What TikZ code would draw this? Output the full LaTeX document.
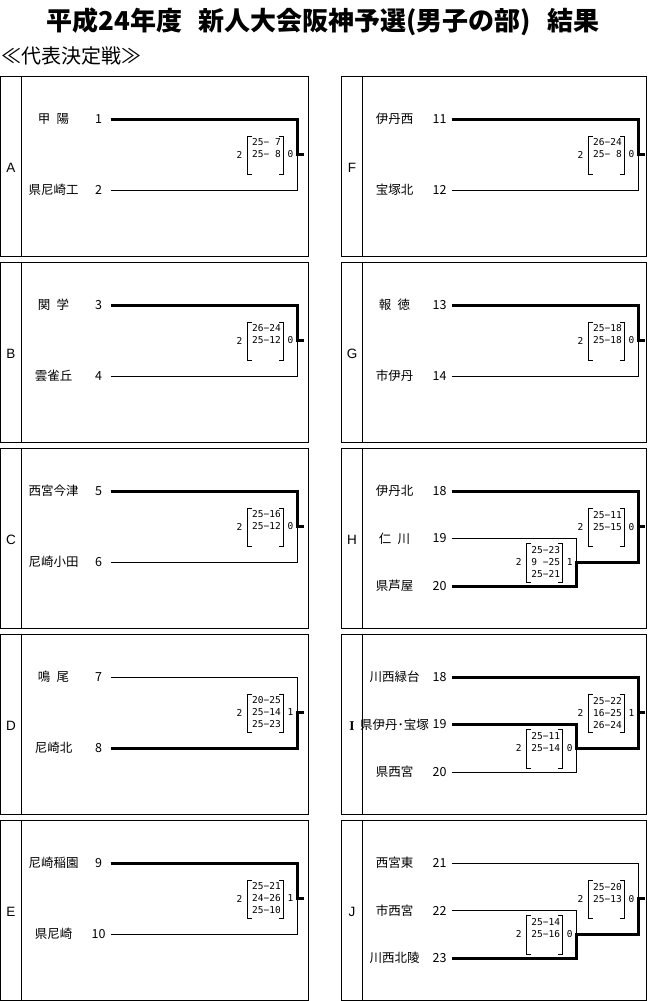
\documentclass[tikz,border=0pt]{standalone}
\usepackage{fontspec}
\setmainfont{Noto Sans CJK JP}
\newfontfamily\mono{DejaVu Sans Mono}
\newfontfamily\lat{Liberation Sans}
\newfontfamily\latserif{Liberation Serif}
\tikzset{
  lnthin/.style={line width=1pt},
  lnthick/.style={line width=3pt},
  frame/.style={line width=1pt},
  team/.style={font=\fontsize{12.5}{13}\selectfont, inner sep=0pt},
  seed/.style={font=\fontsize{12.5}{13}\selectfont, inner sep=0pt},
  scorerow/.style={font=\mono\fontsize{9.5}{10}\selectfont, inner sep=0pt, anchor=west},
  setnum/.style={font=\mono\fontsize{9.5}{10}\selectfont, inner sep=0pt},
  letter/.style={font=\lat\fontsize{13.5}{14}\selectfont, inner sep=0pt},
}
\newcommand{\ScoreBox}[7]{%
  \node[setnum] (#1-w) at ({#2-57.5},#3) {2};
  \node[scorerow] (#1-r1) at ({#2-45},{#3-12}) {#4};
  \node[scorerow] (#1-r2) at ({#2-45},{#3}) {#5};
  \node[scorerow] (#1-r3) at ({#2-45},{#3+12}) {#6};
  \node[setnum] (#1-l) at ({#2-6.5},#3) {#7};
  \draw[lnthin] ({#2-45},{#3-18.5}) -- ({#2-49.5},{#3-18.5}) -- ({#2-49.5},{#3+20}) -- ({#2-45},{#3+20});
  \draw[lnthin] ({#2-18},{#3-18.5}) -- ({#2-13.5},{#3-18.5}) -- ({#2-13.5},{#3+20}) -- ({#2-18},{#3+20});
}
\newcommand{\PanelFrame}[2]{%
  \draw[frame] (0,0) rectangle (\pw,180);
  \draw[frame] (21,0) -- (21,180);
  \node[letter] (#1-L) at (10.5,92) {#2};
}
\newcommand{\TwoPanel}[9]{%
  \PanelFrame{#1}{#2}
  \node[team] (#1-n1) at (53,43) {#3};
  \node[seed] (#1-s1) at (98,43) {#4};
  \node[team] (#1-n2) at (53,114) {#5};
  \node[seed] (#1-s2) at (98,114) {#6};
  \coordinate (#1-a) at (110,43);
  \coordinate (#1-b) at (110,114);
  \coordinate (#1-m) at (296.5,78.5);
  \coordinate (#1-o) at (303.5,78.5);
  \ifnum#7=1
    \draw[lnthin] (#1-b) -| (#1-m);
    \draw[lnthick] (#1-a) -| (#1-m) -- (#1-o);
  \else
    \draw[lnthin] (#1-a) -| (#1-m);
    \draw[lnthick] (#1-b) -| (#1-m) -- (#1-o);
  \fi
  \ScoreBox{#1-sc}{296.5}{78.5}#8{#9}%
}
\newcommand{\ThreePanel}[8]{%
  \PanelFrame{#1}{#2}
  \node[team] (#1-n1) at (53,43) {#3};
  \node[seed] (#1-s1) at (98,43) {#4};
  \node[team] (#1-n2) at (53,90.5) {#5};
  \node[seed] (#1-s2) at (98,90.5) {#6};
  \node[team] (#1-n3) at (53,138) {#7};
  \node[seed] (#1-s3) at (98,138) {#8};
  \coordinate (#1-a) at (110,43);
  \coordinate (#1-b) at (110,90.5);
  \coordinate (#1-c) at (110,138);
  \coordinate (#1-lm) at (234.7,114.25);
  \coordinate (#1-um) at (296.5,78.6);
  \coordinate (#1-ut) at (296.5,43);
  \coordinate (#1-ub) at (296.5,114.25);
  \coordinate (#1-o) at (303.5,78.6);
}
\begin{document}
\begin{tikzpicture}[x=1pt,y=-1pt,line join=miter]
\useasboundingbox (0,0) rectangle (651,1001);
\node[font=\bfseries\fontsize{26}{26}\selectfont, inner sep=0pt] (title) at (323,22)
  {平成24年度\hspace{16pt}新人大会阪神予選(男子の部)\hspace{16pt}結果};
\node[font=\fontsize{20}{20}\selectfont, inner sep=0pt, anchor=west] (sub) at (1,56) {≪代表決定戦≫};

% left column
\def\pw{308}
\begin{scope}[shift={(0.5,76)}]
  \TwoPanel{A}{A}{甲\enspace 陽}{1}{県尼崎工}{2}{1}{{25−\phantom{0}7}{25−\phantom{0}8}{}}{0}
\end{scope}
\begin{scope}[shift={(0.5,262)}]
  \TwoPanel{B}{B}{関\enspace 学}{3}{雲雀丘}{4}{1}{{26−24}{25−12}{}}{0}
\end{scope}
\begin{scope}[shift={(0.5,448)}]
  \TwoPanel{C}{C}{西宮今津}{5}{尼崎小田}{6}{1}{{25−16}{25−12}{}}{0}
\end{scope}
\begin{scope}[shift={(0.5,634)}]
  \TwoPanel{D}{D}{鳴\enspace 尾}{7}{尼崎北}{8}{2}{{20−25}{25−14}{25−23}}{1}
\end{scope}
\begin{scope}[shift={(0.5,820)}]
  \TwoPanel{E}{E}{尼崎稲園}{9}{県尼崎}{10}{1}{{25−21}{24−26}{25−10}}{1}
\end{scope}

% right column
\def\pw{304.5}
\begin{scope}[shift={(341.5,76)}]
  \TwoPanel{F}{F}{伊丹西}{11}{宝塚北}{12}{1}{{26−24}{25−\phantom{0}8}{}}{0}
\end{scope}
\begin{scope}[shift={(341.5,262)}]
  \TwoPanel{G}{G}{報\enspace 徳}{13}{市伊丹}{14}{1}{{25−18}{25−18}{}}{0}
\end{scope}
\begin{scope}[shift={(341.5,448)}]
  \ThreePanel{H}{H}{伊丹北}{18}{仁\enspace 川}{19}{県芦屋}{20}
  \draw[lnthin] (H-b) -| (H-lm);
  \draw[lnthick] (H-a) -| (H-ub) -- (H-lm) |- (H-c);
  \draw[lnthick] (H-um) -- (H-o);
  \ScoreBox{H-up}{296.5}{78.6}{25−11}{25−15}{}{0}
  \ScoreBox{H-lo}{234.7}{114.25}{25−23}{9\phantom{0}−25}{25−21}{1}
\end{scope}
\begin{scope}[shift={(341.5,634)}]
  \ThreePanel{I}{\latserif\bfseries I}{川西緑台}{18}{県伊丹･宝塚}{19}{県西宮}{20}
  \draw[lnthin] (I-c) -| (I-lm);
  \draw[lnthick] (I-a) -| (I-ub) -- (I-lm) |- (I-b);
  \draw[lnthick] (I-um) -- (I-o);
  \ScoreBox{I-up}{296.5}{78.6}{25−22}{16−25}{26−24}{1}
  \ScoreBox{I-lo}{234.7}{114.25}{25−11}{25−14}{}{0}
\end{scope}
\begin{scope}[shift={(341.5,820)}]
  \ThreePanel{J}{J}{西宮東}{21}{市西宮}{22}{川西北陵}{23}
  \draw[lnthin] (J-a) -| (J-um);
  \draw[lnthin] (J-b) -| (J-lm);
  \draw[lnthick] (J-c) -| (J-lm) -- (J-ub) -- (J-um) -- (J-o);
  \ScoreBox{J-up}{296.5}{78.6}{25−20}{25−13}{}{0}
  \ScoreBox{J-lo}{234.7}{114.25}{25−14}{25−16}{}{0}
\end{scope}
\end{tikzpicture}
\end{document}
